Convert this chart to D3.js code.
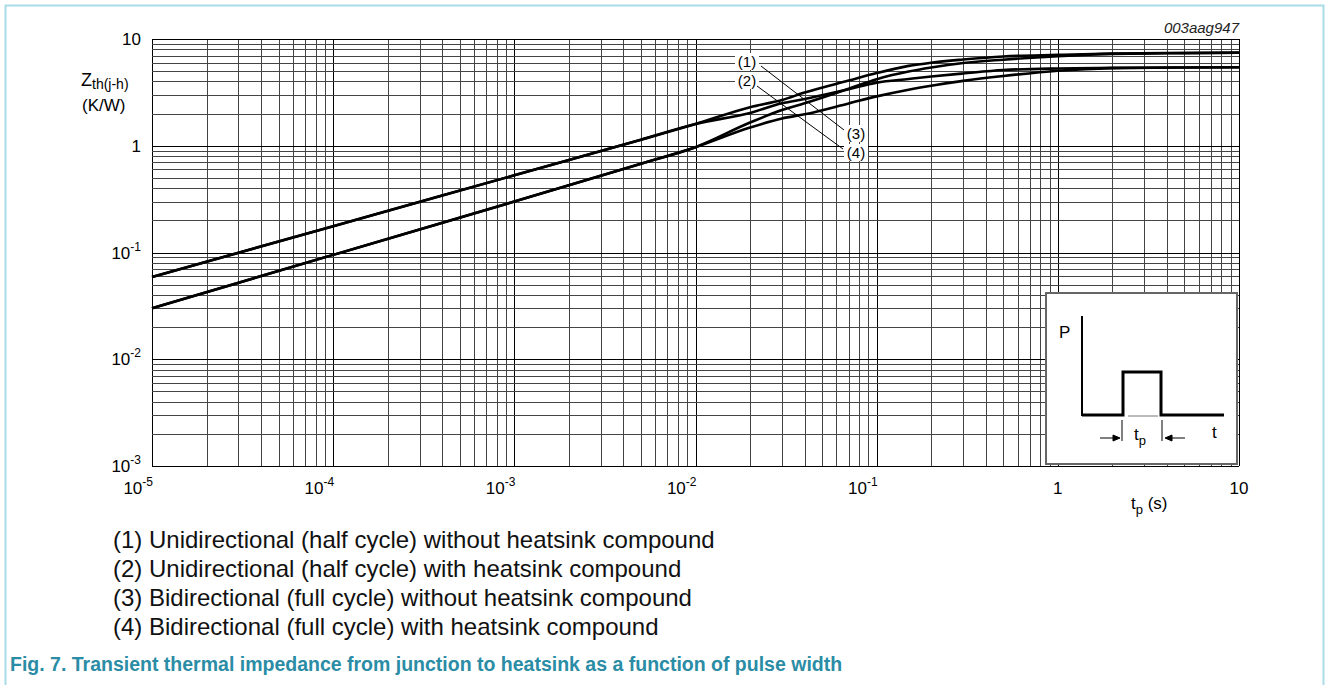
<!DOCTYPE html>
<html>
<head>
<meta charset="utf-8">
<script src="https://cdn.jsdelivr.net/npm/d3@7"></script>
<style>
  body { margin: 0; background: #fff; }
  svg { font-family: "Liberation Sans", Arial, sans-serif; }
</style>
</head>
<body>
<div id="chart"></div>
<script>
{
// data: pulse width (s) and Zth(j-h) (K/W) for the four curves
const pulseWidth = [1e-5, 1e-4, 1e-3, 5e-3, 1e-2, 0.02, 0.03, 0.04, 0.07, 0.1, 0.15, 0.2, 0.3, 0.5, 1, 2, 5, 10];
const zthUniNoCompound = [0.059, 0.176, 0.529, 1.14, 1.60, 2.30, 2.68, 3.15, 4.08, 4.8, 5.6, 6.0, 6.42, 6.86, 7.1, 7.3, 7.4, 7.45];
const zthUniCompound = [0.059, 0.176, 0.529, 1.14, 1.60, 2.03, 2.5, 2.74, 3.39, 3.9, 4.22, 4.45, 4.75, 5.12, 5.3, 5.36, 5.41, 5.43];
const zthBiNoCompound = [0.030, 0.095, 0.30, 0.68, 0.97, 1.65, 2.16, 2.5, 3.42, 4.2, 4.95, 5.4, 5.95, 6.4, 6.9, 7.25, 7.38, 7.44];
const zthBiCompound = [0.030, 0.095, 0.30, 0.68, 0.97, 1.48, 1.8, 1.97, 2.49, 2.9, 3.35, 3.65, 4.05, 4.5, 5.05, 5.33, 5.41, 5.43];

const xTickExp = [-5, -4, -3, -2, -1, 0, 1];
const yTickExp = [-3, -2, -1, 0, 1];
const legendLines = [
  "(1) Unidirectional (half cycle) without heatsink compound",
  "(2) Unidirectional (half cycle) with heatsink compound",
  "(3) Bidirectional (full cycle) without heatsink compound",
  "(4) Bidirectional (full cycle) with heatsink compound"
];
const curveLabels = ["(1)", "(2)", "(3)", "(4)"];

const width = 1328, height = 685;
const plot = { left: 152, top: 39, right: 1239, bottom: 466 };

const svg = d3.select('#chart').append('svg')
  .attr('width', width)
  .attr('height', height);

//scales
const x = d3.scaleLog().domain([1e-5, 10]).range([plot.left, plot.right]);
const y = d3.scaleLog().domain([1e-3, 10]).range([plot.bottom, plot.top]);

//frame around the figure
svg.append('rect')
  .attr('x', 5.5).attr('y', 5.5)
  .attr('width', 1318).attr('height', 720)
  .attr('fill', 'none')
  .attr('stroke', '#a9dce6')
  .attr('stroke-width', 2);

//grid: every 1..9 step inside each decade
function logSteps(lo, hi) {
  const out = [];
  for (let e = lo; e < hi; e++) {
    for (let m = 1; m < 10; m++) out.push({ v: m * Math.pow(10, e), major: m === 1 });
  }
  out.push({ v: Math.pow(10, hi), major: true });
  return out;
}
const grid = svg.append('g').attr('id', 'grid');

grid.selectAll('line.vx')
  .data(logSteps(-5, 1))
  .join('line')
  .attr('class', 'vx')
  .attr('x1', d => Math.round(x(d.v)) + 0.5).attr('x2', d => Math.round(x(d.v)) + 0.5)
  .attr('y1', plot.top).attr('y2', plot.bottom)
  .attr('stroke', d => d.major ? '#000' : '#444')
  .attr('stroke-width', 1);

grid.selectAll('line.hy')
  .data(logSteps(-3, 1))
  .join('line')
  .attr('class', 'hy')
  .attr('y1', d => Math.round(y(d.v)) + 0.5).attr('y2', d => Math.round(y(d.v)) + 0.5)
  .attr('x1', plot.left).attr('x2', plot.right)
  .attr('stroke', d => d.major ? '#000' : '#444')
  .attr('stroke-width', 1);

//tick labels
function expLabel(sel, e) {
  if (e >= 0) {
    sel.text(e === 0 ? '1' : '10');
  } else {
    sel.append('tspan').text('10');
    sel.append('tspan').attr('dy', -8).attr('font-size', 12).text(e);
  }
}
svg.append('g').selectAll('text')
  .data(xTickExp)
  .join('text')
  .attr('x', d => x(Math.pow(10, d)) + (d >= 0 ? 0 : 1))
  .attr('y', 494)
  .attr('text-anchor', d => d >= 0 ? 'middle' : 'end')
  .attr('font-size', 17)
  .attr('fill', '#000')
  .each(function (d) { expLabel(d3.select(this), d); });

svg.append('g').selectAll('text')
  .data(yTickExp)
  .join('text')
  .attr('x', 141)
  .attr('y', d => y(Math.pow(10, d)) + 6)
  .attr('text-anchor', 'end')
  .attr('font-size', 17)
  .attr('fill', '#000')
  .each(function (d) { expLabel(d3.select(this), d); });

//axis titles
const yTitle = svg.append('text').attr('x', 81).attr('y', 86).attr('font-size', 18);
yTitle.append('tspan').text('Z');
yTitle.append('tspan').attr('dy', 3).attr('font-size', 14).text('th(j-h)');
svg.append('text').attr('x', 82).attr('y', 111).attr('font-size', 17).text('(K/W)');

const xTitle = svg.append('text').attr('x', 1131).attr('y', 509).attr('font-size', 17);
xTitle.append('tspan').text('t');
xTitle.append('tspan').attr('dy', 5).attr('font-size', 13).text('p');
xTitle.append('tspan').attr('dy', -5).text(' (s)');

svg.append('text')
  .attr('x', plot.right).attr('y', 33)
  .attr('text-anchor', 'end')
  .attr('font-size', 15)
  .attr('font-style', 'italic')
  .attr('fill', '#222')
  .text('003aag947');

//inset with the pulse sketch
const inset = svg.append('g').attr('id', 'inset');
inset.append('rect')
  .attr('x', 1046).attr('y', 293)
  .attr('width', 191).attr('height', 171)
  .attr('fill', '#fff')
  .attr('stroke', '#666')
  .attr('stroke-width', 2);
inset.append('line')
  .attr('x1', 1082).attr('x2', 1082).attr('y1', 316).attr('y2', 416)
  .attr('stroke', '#000').attr('stroke-width', 2);
inset.append('path')
  .attr('d', 'M1082,415 H1123 V372 H1161 V415 H1224')
  .attr('fill', 'none')
  .attr('stroke', '#000').attr('stroke-width', 3);
inset.append('line')
  .attr('x1', 1128).attr('x2', 1158).attr('y1', 416).attr('y2', 416)
  .attr('stroke', '#777').attr('stroke-width', 1);
inset.selectAll('line.tick')
  .data([1122, 1162])
  .join('line')
  .attr('class', 'tick')
  .attr('x1', d => d).attr('x2', d => d).attr('y1', 420).attr('y2', 441)
  .attr('stroke', '#000').attr('stroke-width', 1);
inset.append('path')
  .attr('d', 'M1100,438 H1114 M1120,438 l-7,-3 v6 z M1185,438 H1171 M1165,438 l7,-3 v6 z')
  .attr('stroke', '#000').attr('fill', '#000').attr('stroke-width', 1);
inset.append('text').attr('x', 1059).attr('y', 338).attr('font-size', 17).text('P');
inset.append('text').attr('x', 1212).attr('y', 438).attr('font-size', 17).text('t');
const tpLabel = inset.append('text').attr('x', 1134).attr('y', 440).attr('font-size', 17);
tpLabel.append('tspan').text('t');
tpLabel.append('tspan').attr('dy', 5).attr('font-size', 13).text('p');

//curves
const series = [zthUniNoCompound, zthUniCompound, zthBiNoCompound, zthBiCompound];
const line = d3.line()
  .x(d => x(d[0]))
  .y(d => y(d[1]))
  .curve(d3.curveMonotoneX);

svg.append('g').attr('id', 'curves')
  .selectAll('path')
  .data(series)
  .join('path')
  .attr('d', s => line(pulseWidth.map((t, i) => [t, s[i]])))
  .attr('fill', 'none')
  .attr('stroke', '#000')
  .attr('stroke-width', 2.6);

//curve labels with leader lines
const labelPos = [[747, 67], [747, 86], [856, 139], [856, 158]];
const labels = svg.append('g').attr('id', 'curveLabels');
labels.selectAll('rect')
  .data(labelPos)
  .join('rect')
  .attr('x', d => d[0] - 12).attr('y', d => d[1] - 14)
  .attr('width', 24).attr('height', 17)
  .attr('fill', '#fff');
labels.selectAll('line')
  .data([[761, 66, 844, 130], [757, 86, 843, 149]])
  .join('line')
  .attr('x1', d => d[0]).attr('y1', d => d[1])
  .attr('x2', d => d[2]).attr('y2', d => d[3])
  .attr('stroke', '#000').attr('stroke-width', 1);
labels.selectAll('text')
  .data(curveLabels)
  .join('text')
  .attr('x', (d, i) => labelPos[i][0])
  .attr('y', (d, i) => labelPos[i][1])
  .attr('text-anchor', 'middle')
  .attr('font-size', 15)
  .text(d => d);

//legend below the chart
svg.append('g').attr('id', 'legend')
  .selectAll('text')
  .data(legendLines)
  .join('text')
  .attr('x', 113)
  .attr('y', (d, i) => 548 + i * 29)
  .attr('font-size', 24)
  .attr('fill', '#111')
  .text(d => d);

//caption
svg.append('text')
  .attr('x', 10).attr('y', 671)
  .attr('font-size', 19.5)
  .attr('font-weight', 'bold')
  .attr('fill', '#2a8ca5')
  .text('Fig. 7. Transient thermal impedance from junction to heatsink as a function of pulse width');
}
</script>
</body>
</html>
